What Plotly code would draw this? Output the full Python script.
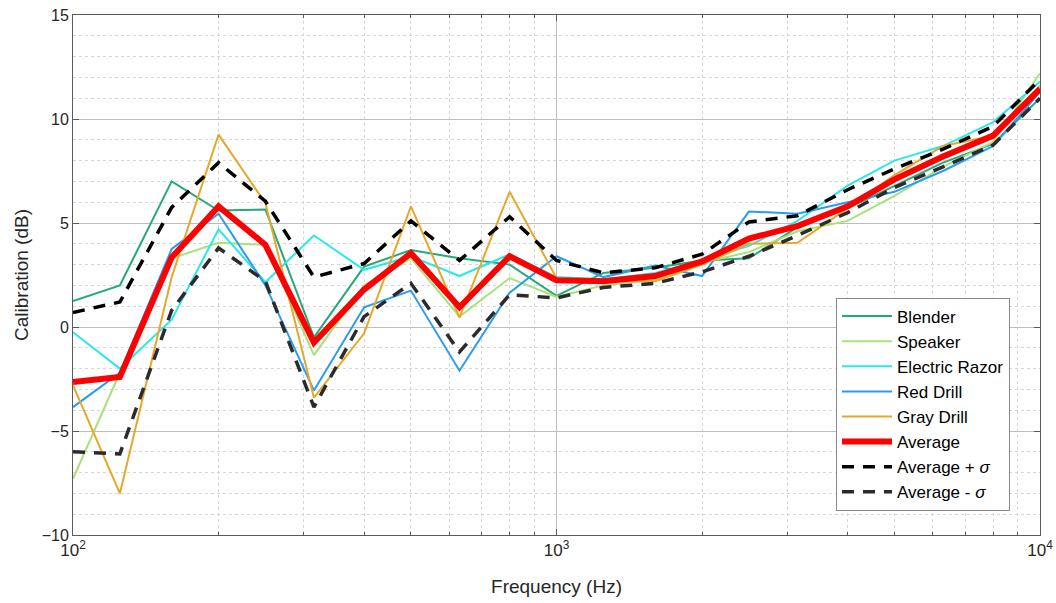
import plotly.graph_objects as go

freq = [100, 125, 160, 200, 250, 315, 400, 500, 630, 800, 1000, 1250, 1600,
        2000, 2500, 3150, 4000, 5000, 6300, 8000, 10000]

blender = [1.25, 2.0, 7.0, 5.6, 5.65, -0.5, 2.9, 3.7, 3.3, 3.0, 1.5, 2.6, 2.85,
           3.2, 3.3, 4.8, 5.7, 6.8, 7.9, 8.8, 11.0]
speaker = [-7.3, -2.2, 3.3, 4.05, 3.95, -1.35, 2.0, 3.3, 0.5, 2.35, 1.45, 2.0, 2.3,
           3.1, 3.6, 4.6, 5.1, 6.3, 7.7, 8.9, 12.2]
razor = [-0.25, -2.0, 0.35, 4.7, 2.15, 4.4, 2.75, 3.4, 2.45, 3.5, 2.4, 2.3, 2.6,
         3.2, 3.9, 5.1, 6.8, 8.0, 8.7, 9.85, 11.8]
red_drill = [-3.85, -2.2, 3.75, 5.45, 2.0, -3.05, 0.95, 1.75, -2.1, 1.65, 3.4, 2.4, 2.95,
             2.45, 5.55, 5.45, 6.0, 6.5, 7.5, 8.7, 11.3]
gray_drill = [-2.8, -8.0, 2.4, 9.25, 5.95, -3.4, -0.3, 5.8, 0.45, 6.5, 2.35, 2.2, 2.2,
              3.0, 4.0, 4.05, 5.7, 7.3, 8.7, 9.2, 11.6]
average = [-2.65, -2.4, 3.35, 5.8, 3.95, -0.75, 1.8, 3.55, 0.95, 3.4, 2.25, 2.2, 2.45,
           3.15, 4.25, 4.85, 5.8, 7.1, 8.2, 9.2, 11.45]
avg_plus = [0.7, 1.2, 5.75, 7.9, 6.05, 2.4, 3.05, 5.1, 3.2, 5.3, 3.2, 2.6, 2.85,
            3.5, 5.05, 5.35, 6.6, 7.6, 8.55, 9.65, 11.9]
avg_minus = [-6.0, -6.1, 0.8, 3.8, 2.2, -3.85, 0.5, 2.1, -1.2, 1.55, 1.4, 1.9, 2.1,
             2.65, 3.4, 4.4, 5.5, 6.7, 7.7, 8.75, 11.0]

x_major = [100, 1000, 10000]
x_major_text = ["10<sup>2</sup>", "10<sup>3</sup>", "10<sup>4</sup>"]
x_minor = [m * d for d in (100, 1000) for m in range(2, 10)]
y_ticks = [-10, -5, 0, 5, 10, 15]

fig = go.Figure()
series = [
    ("Blender", blender, "#25a97b"),
    ("Speaker", speaker, "#a9e27c"),
    ("Electric Razor", razor, "#2be8ef"),
    ("Red Drill", red_drill, "#2a9cf0"),
    ("Gray Drill", gray_drill, "#e6a82b"),
]
for name, ys, col in series:
    fig.add_trace(go.Scatter(x=freq, y=ys, name=name, mode="lines",
                             line=dict(color=col, width=2)))
fig.add_trace(go.Scatter(x=freq, y=average, name="Average", mode="lines",
                         line=dict(color="#ff0000", width=6)))
fig.add_trace(go.Scatter(x=freq, y=avg_plus, name="Average + <i>σ</i>", mode="lines",
                         line=dict(color="#000000", width=3.5, dash="12px,9px")))
fig.add_trace(go.Scatter(x=freq, y=avg_minus, name="Average - <i>σ</i>", mode="lines",
                         line=dict(color="#2b2b2b", width=3.5, dash="12px,9px")))

fam = "Liberation Sans, Arial, sans-serif"
fig.update_layout(
    width=1056, height=603,
    margin=dict(l=73, r=16, t=15, b=68, autoexpand=False),
    paper_bgcolor="white", plot_bgcolor="white",
    font=dict(family=fam, size=16, color="#262626"),
    showlegend=True,
    legend=dict(x=0.969, y=0.047, xanchor="right", yanchor="bottom",
                bgcolor="white", bordercolor="#8a8a8a", borderwidth=1,
                font=dict(family=fam, size=17, color="#000000"),
                tracegroupgap=0, itemwidth=50),
    xaxis=dict(
        type="log", range=[2, 4], automargin=False,
        tickmode="array", tickvals=x_major, ticktext=x_major_text,
        tickfont=dict(size=17),
        showgrid=True, gridcolor="#bdbdbd", gridwidth=1,
        showline=True, linecolor="#5a5a5a", linewidth=1, mirror="ticks",
        ticks="inside", ticklen=6, tickcolor="#5a5a5a",
        minor=dict(tickmode="array", tickvals=x_minor, showgrid=True,
                   gridcolor="#d6d6d6", griddash="dot", ticks="inside", ticklen=3,
                   tickcolor="#5a5a5a"),
        title=dict(text="Frequency (Hz)", font=dict(size=19, color="#262626"), standoff=20),
        zeroline=False,
    ),
    yaxis=dict(
        range=[-10, 15], automargin=False,
        tickmode="array", tickvals=y_ticks,
        showgrid=True, gridcolor="#bdbdbd", gridwidth=1,
        showline=True, linecolor="#5a5a5a", linewidth=1, mirror="ticks",
        ticks="inside", ticklen=6, tickcolor="#5a5a5a",
        minor=dict(dtick=1, showgrid=True, gridcolor="#d6d6d6", griddash="dot"),
        title=dict(text="Calibration (dB)", font=dict(size=19, color="#262626"), standoff=8),
        zeroline=False,
    ),
)

fig.write_html(
    "out.html",
    config={"displayModeBar": False},
    post_script="document.body.style.margin='0';document.body.style.overflow='hidden';",
)
